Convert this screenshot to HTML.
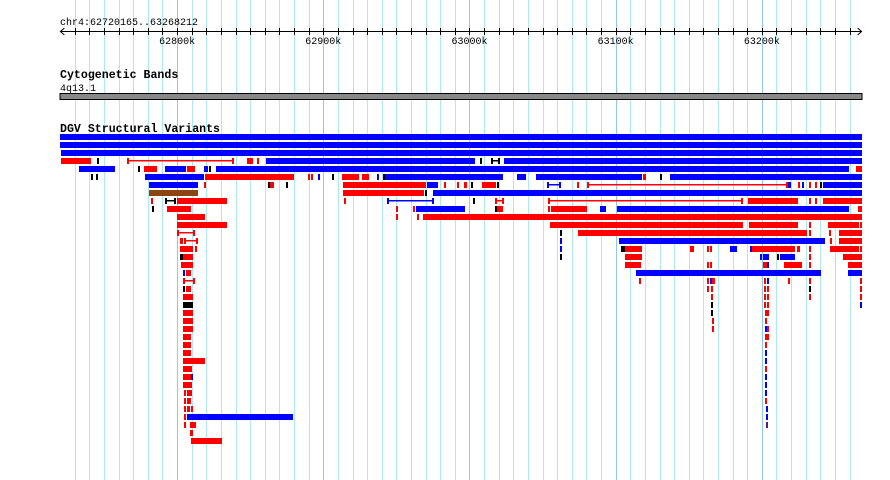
<!DOCTYPE html>
<html><head><meta charset="utf-8">
<style>
html,body{margin:0;padding:0;background:#fff;}
svg{display:block;}
text{font-family:"Liberation Mono",monospace;}
</style></head>
<body>
<svg id="chart" width="890" height="480" xmlns="http://www.w3.org/2000/svg">
  <rect x="0" y="0" width="890" height="480" fill="#ffffff"/>
  <g id="grid"></g>
  <g id="ruler"></g>
  <text x="60" y="25" font-size="10" fill="#000">chr4:62720165..63268212</text>
  <text x="60" y="78" font-size="11.6" font-weight="bold" fill="#000">Cytogenetic Bands</text>
  <text x="60" y="91" font-size="10" fill="#000">4q13.1</text>
  <rect x="60" y="93.5" width="802" height="6" fill="#888" stroke="#000" stroke-width="1"/>
  <text x="60" y="132" font-size="11.6" font-weight="bold" fill="#000">DGV Structural Variants</text>
  <g id="features"></g>
</svg>
<script>
// genomic window (kb)
const domainKb = [62720.165, 63268.212];
const gridStepKb = 10;
const tickLabelsKb = [62800, 62900, 63000, 63100, 63200];
const tickLabels = ["62800k", "62900k", "63000k", "63100k", "63200k"];
// features: [row, startKb, endKb, type]  b=blue r=red k=black n=brown p=purple; *l = spanning line with end caps
const END = 63268.212;
const features = [
[0,62720.1,END,'b'],[1,62720.1,END,'b'],[2,62720.8,END,'b'],
[3,62720.8,62741.3,'r'],[3,62745.4,62746.8,'k'],[3,62766.0,62838.6,'rl'],[3,62847.5,62851.6,'r'],[3,62854.4,62855.7,'r'],[3,62860.5,63003.7,'b'],[3,63007.1,63008.5,'k'],[3,63014.7,63020.8,'kl'],[3,63023.6,END,'b'],
[4,62733.1,62757.8,'b'],[4,62773.5,62774.9,'k'],[4,62777.6,62786.5,'r'],[4,62792.0,62806.4,'b'],[4,62807.1,62809.2,'r'],[4,62809.8,62811.9,'r'],[4,62818.1,62820.8,'b'],[4,62821.5,62822.9,'k'],[4,62826.3,63259.9,'b'],[4,63264.7,END,'r'],
[5,62741.3,62742.7,'k'],[5,62744.8,62746.1,'k'],[5,62778.3,62818.7,'b'],[5,62819.4,62879.7,'r'],[5,62889.3,62890.7,'r'],[5,62891.4,62892.7,'r'],[5,62896.1,62897.5,'b'],[5,62905.7,62907.1,'k'],[5,62912.6,62924.2,'r'],[5,62926.3,62931.1,'r'],[5,62936.6,62937.9,'b'],[5,62940.7,62942.0,'k'],[5,62942.0,63022.9,'b'],[5,63032.5,63038.6,'b'],[5,63045.5,63118.1,'b'],[5,63118.8,63120.8,'r'],[5,63130.4,63131.8,'k'],[5,63137.3,END,'b'],
[6,62781.1,62814.6,'b'],[6,62818.1,62819.4,'r'],[6,62861.9,62863.3,'k'],[6,62863.3,62866.0,'r'],[6,62874.2,62875.6,'k'],[6,62913.3,62970.1,'r'],[6,62970.8,62978.3,'b'],[6,62982.5,62983.8,'r'],[6,62991.4,62992.7,'r'],[6,62996.2,62998.2,'r'],[6,63001.0,63002.3,'k'],[6,63008.5,63018.1,'r'],[6,63018.8,63019.9,'k'],[6,63053.0,63062.6,'bl'],[6,63073.6,63074.9,'r'],[6,63080.4,63218.1,'rl'],[6,63218.1,63220.2,'b'],[6,63224.9,63226.3,'r'],[6,63227.7,63229.1,'b'],[6,63232.5,63233.9,'r'],[6,63236.6,63238.0,'r'],[6,63240.0,63241.4,'k'],[6,63242.1,END,'b'],
[7,62781.1,62814.6,'n'],[7,62913.3,62968.8,'r'],[7,62969.4,62970.8,'k'],[7,62974.9,END,'b'],
[8,62782.4,62783.8,'r'],[8,62792.0,62798.9,'kl'],[8,62799.6,62833.8,'r'],[8,62914.0,62915.3,'r'],[8,62943.4,62975.6,'bl'],[8,63002.3,63003.7,'k'],[8,63017.4,63023.6,'rl'],[8,63053.7,63187.3,'rl'],[8,63190.7,63222.9,'r'],[8,63222.9,63224.9,'rl'],[8,63232.5,63233.9,'r'],[8,63236.6,63238.0,'r'],[8,63242.1,END,'r'],
[9,62783.1,62784.5,'k'],[9,62793.4,62809.8,'r'],[9,62949.6,62950.9,'r'],[9,62961.2,62962.6,'r'],[9,62963.3,62996.8,'b'],[9,63017.4,63018.1,'k'],[9,63018.8,63022.9,'r'],[9,63053.7,63055.1,'r'],[9,63055.8,63080.4,'r'],[9,63089.3,63093.4,'b'],[9,63101.0,63259.9,'b'],[9,63266.0,END,'rl'],
[10,62799.6,62819.4,'r'],[10,62949.6,62950.9,'r'],[10,62963.9,62965.3,'r'],[10,62968.1,END,'r'],
[11,62799.6,62833.8,'r'],[11,63055.1,63187.3,'r'],[11,63191.4,63224.9,'r'],[11,63232.5,63233.9,'r'],[11,63245.5,63266.7,'r'],[11,63267.4,END,'r'],
[12,62799.6,62811.9,'rl'],[12,63061.9,63062.6,'k'],[12,63074.2,63231.1,'r'],[12,63232.5,63233.9,'r'],[12,63246.2,63247.6,'r'],[12,63253.0,END,'r'],
[13,62802.3,62803.7,'r'],[13,62804.4,62814.6,'rl'],[13,63061.9,63062.6,'b'],[13,63102.3,63243.4,'b'],[13,63246.9,63248.2,'r'],[13,63253.0,END,'r'],
[14,62802.3,62811.2,'r'],[14,62811.9,62812.6,'r'],[14,63061.9,63062.6,'b'],[14,63103.7,63106.4,'k'],[14,63106.4,63118.1,'r'],[14,63151.0,63153.7,'r'],[14,63162.6,63164.0,'r'],[14,63164.7,63166.0,'r'],[14,63178.4,63183.2,'b'],[14,63192.1,63192.8,'b'],[14,63193.4,63222.9,'r'],[14,63224.3,63226.3,'r'],[14,63232.5,63233.9,'r'],[14,63246.9,63266.7,'r'],[14,63267.4,END,'r'],
[15,62802.3,62803.7,'k'],[15,62803.7,62811.2,'r'],[15,63061.9,63062.6,'k'],[15,63106.4,63118.1,'r'],[15,63198.9,63200.3,'b'],[15,63201.0,63205.1,'b'],[15,63210.6,63211.9,'k'],[15,63212.6,63222.9,'b'],[15,63232.5,63233.9,'r'],[15,63255.8,END,'r'],
[16,62803.0,62811.2,'r'],[16,63106.4,63117.4,'r'],[16,63162.6,63164.0,'r'],[16,63164.7,63166.0,'r'],[16,63201.0,63203.7,'r'],[16,63203.7,63205.1,'b'],[16,63215.4,63227.7,'r'],[16,63232.5,63233.9,'r'],[16,63259.2,END,'r'],
[17,62803.7,62805.0,'b'],[17,62806.4,62809.8,'r'],[17,63114.0,63240.7,'b'],[17,63259.2,END,'b'],
[18,62803.7,62811.9,'rl'],[18,63116.0,63117.4,'r'],[18,63162.6,63164.0,'r'],[18,63164.7,63166.0,'b'],[18,63166.0,63168.1,'r'],[18,63201.7,63203.0,'r'],[18,63203.7,63205.1,'b'],[18,63218.1,63219.5,'r'],[18,63232.5,63233.9,'r'],[18,63267.4,END,'r'],
[19,62803.7,62805.0,'k'],[19,62806.4,62809.8,'r'],[19,63162.6,63164.0,'r'],[19,63165.4,63166.7,'r'],[19,63201.7,63203.0,'r'],[19,63203.7,63205.1,'r'],[19,63232.5,63233.9,'k'],[19,63267.4,END,'r'],
[20,62803.7,62811.2,'r'],[20,63165.4,63166.7,'r'],[20,63201.7,63203.0,'r'],[20,63203.7,63205.1,'r'],[20,63232.5,63233.9,'r'],[20,63267.4,END,'r'],
[21,62803.7,62811.2,'k'],[21,63165.4,63166.7,'k'],[21,63201.7,63203.0,'r'],[21,63203.7,63205.1,'r'],[21,63267.4,END,'b'],
[22,62803.7,62811.2,'r'],[22,63165.4,63166.7,'k'],[22,63202.3,63205.1,'r'],
[23,62803.7,62811.2,'r'],[23,63166.0,63167.4,'r'],[23,63202.3,63203.7,'r'],
[24,62803.7,62811.2,'r'],[24,63166.0,63167.4,'r'],[24,63202.3,63203.0,'b'],[24,63203.7,63205.1,'r'],
[25,62803.7,62809.8,'r'],[25,63202.3,63205.1,'r'],
[26,62803.7,62809.8,'r'],[26,63202.3,63203.7,'r'],
[27,62803.7,62809.8,'r'],[27,63202.3,63203.7,'b'],
[28,62803.7,62819.4,'r'],[28,63202.3,63203.7,'b'],
[29,62803.7,62810.5,'r'],[29,63202.3,63203.7,'r'],
[30,62803.7,62809.2,'r'],[30,62809.8,62811.2,'b'],[30,63202.3,63203.7,'b'],
[31,62803.7,62810.5,'r'],[31,63202.3,63203.7,'b'],
[32,62804.4,62806.4,'r'],[32,62807.1,62810.5,'r'],[32,63202.3,63203.7,'b'],
[33,62804.4,62806.4,'r'],[33,62807.1,62809.2,'r'],[33,63202.3,63203.7,'r'],
[34,62804.4,62806.4,'r'],[34,62807.1,62808.5,'r'],[34,62809.2,62811.2,'r'],[34,63203.0,63204.4,'b'],
[35,62804.4,62806.4,'r'],[35,62807.1,62879.0,'b'],[35,63203.0,63204.4,'b'],
[36,62804.4,62806.4,'r'],[36,62808.5,62812.6,'r'],[36,63203.0,63204.4,'p'],
[37,62808.5,62811.2,'r'],
[38,62809.2,62830.4,'r']
];

const X0 = 60.4, X1 = 861.6;
function xScale(kb){ return X0 + (kb - domainKb[0]) / (domainKb[1] - domainKb[0]) * (X1 - X0); }
function rowY(r){ return 134 + r * 8; }
const colors = {b:'#0000ff', r:'#ff0000', k:'#000000', n:'#8b4513', p:'#551a8b'};
const NS = 'http://www.w3.org/2000/svg';
function mk(tag, attrs, parent){ const e = document.createElementNS(NS, tag); for (const k in attrs) e.setAttribute(k, attrs[k]); parent.appendChild(e); return e; }

// gridlines + ruler ticks
const grid = document.getElementById('grid');
const ruler = document.getElementById('ruler');
const firstGrid = Math.ceil(domainKb[0] / gridStepKb) * gridStepKb;
for (let kb = firstGrid; kb <= domainKb[1]; kb += gridStepKb) {
  const x = Math.round(xScale(kb)) + 0.5;
  const major = kb % 100 === 0;
  const gl = mk('line', {x1:x, x2:x, y1:0, y2:480, stroke: major ? '#8fcbe6' : '#b0e8f0', 'stroke-width':1}, grid);
  
  
  const tk = mk('line', {x1:x, x2:x, y1:28, y2:35, stroke:'#000', 'stroke-width':1}, ruler);
  
  
}
const axisLine = mk('line', {x1:X0, x2:X1, y1:31.5, y2:31.5, stroke:'#000', 'stroke-width':1}, ruler);


const la = mk('polyline', {points:`${X0+4},28 ${X0},31.5 ${X0+4},35`, fill:'none', stroke:'#000'}, ruler);


const ra = mk('polyline', {points:`${X1-4},28 ${X1},31.5 ${X1-4},35`, fill:'none', stroke:'#000'}, ruler);


tickLabelsKb.forEach((kb, i) => {
  const t = mk('text', {x: xScale(kb), y: 44, 'font-size': 10, 'text-anchor':'middle', fill:'#000'}, ruler);
  t.textContent = tickLabels[i];
  
  
});

// features
const fg = document.getElementById('features');
features.forEach(f => {
  const row = f[0], s = f[1], e = f[2], type = f[3];
  const base = type[0], isLine = type.length > 1;
  const col = colors[base];
  let x1 = Math.round(xScale(s)), x2 = Math.round(xScale(e));
  if (x2 - x1 < 2) x2 = x1 + 2;
  const y = rowY(row);
  if (!isLine) {
    const r = mk('rect', {x:x1, y:y, width:x2 - x1, height:6, fill:col}, fg);
    
    
  } else {
    const g = mk('g', {}, fg);
    
    
    mk('rect', {x:x1, y:y + 2, width:x2 - x1, height:1.5, fill:col}, g);
    mk('rect', {x:x1, y:y, width:2, height:6, fill:col}, g);
    mk('rect', {x:x2 - 2, y:y, width:2, height:6, fill:col}, g);
  }
});
</script>
</body></html>
